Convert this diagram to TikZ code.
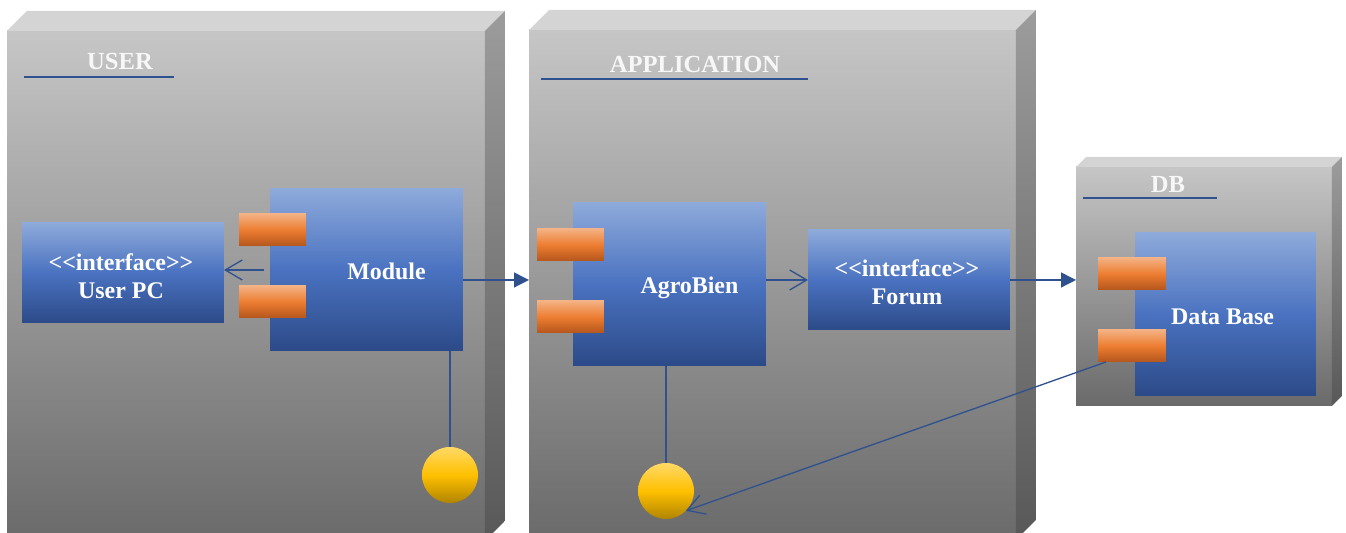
\documentclass[tikz,border=0pt]{standalone}
\usepackage{fontspec}
\setmainfont{Liberation Serif}[Ligatures=TeXOff]
\usetikzlibrary{positioning, calc, arrows.meta}

\definecolor{pkgTop}{HTML}{C6C6C6}
\definecolor{pkgBot}{HTML}{6A6A6A}
\definecolor{pkgLid}{HTML}{D4D4D4}
\definecolor{sideTop}{HTML}{9C9C9C}
\definecolor{sideBot}{HTML}{585858}
\definecolor{compTop}{HTML}{8EAADB}
\definecolor{compMid}{HTML}{4A72C0}
\definecolor{compBot}{HTML}{2C4A88}
\definecolor{portTop}{HTML}{F4B183}
\definecolor{portMid}{HTML}{ED7D31}
\definecolor{portBot}{HTML}{B4561C}
\definecolor{ballTop}{HTML}{FFD966}
\definecolor{ballMid}{HTML}{FFC000}
\definecolor{ballBot}{HTML}{B08400}
\definecolor{wireBlue}{HTML}{2F528F}

\tikzset{
  pkg/.style={anchor=north west, inner sep=0, outer sep=0, top color=pkgTop, bottom color=pkgBot},
  comp/.style={anchor=north west, inner sep=0, outer sep=0, top color=compTop, bottom color=compBot, middle color=compMid},
  port/.style={anchor=north west, inner sep=0, outer sep=0, minimum height=0.64cm, top color=portTop, bottom color=portBot, middle color=portMid},
  ball/.style={circle, inner sep=0, outer sep=0, minimum size=1.12cm, top color=ballTop, bottom color=ballBot, middle color=ballMid},
  lbl/.style={text=white, font=\fontsize{13.6}{16}\selectfont\bfseries, align=center},
  ttl/.style={text=white!94!gray, font=\fontsize{14}{16}\selectfont\bfseries},
  wire/.style={draw=wireBlue, line width=0.75pt},
  openarrow/.style={wire, -{Straight Barb[length=0.34cm, width=0.4cm]}},
  fillarrow/.style={wire, -{Triangle[length=0.3cm, width=0.3cm]}}
}

\begin{document}
\begin{tikzpicture}[x={(0.02cm,0)}, y={(0,-0.02cm)}]
  \clip (0,0) rectangle (1346,533);

  % packages
  \node[pkg, minimum width=9.56cm, minimum height=10.2cm] (userPkg) at (7,31) {};
  \node[pkg, minimum width=9.74cm, minimum height=10.2cm] (appPkg) at (529,30) {};
  \node[pkg, minimum width=5.12cm, minimum height=4.78cm] (dbPkg) at (1076,167) {};
  \foreach \p/\d in {userPkg/20, appPkg/20, dbPkg/10} {
    \fill[pkgLid] (\p.north west) -- ++(\d,-\d) -- ($(\p.north east)+(\d,-\d)$) -- (\p.north east) -- cycle;
    \shade[top color=sideTop, bottom color=sideBot] (\p.north east) -- ++(\d,-\d) -- ($(\p.south east)+(\d,-\d)$) -- (\p.south east) -- cycle;
  }

  % titles
  \node[ttl] (userTitle) at (120,61) {USER};
  \draw[wire] (24,77) -- (174,77);
  \node[ttl] (appTitle) at (695,64) {APPLICATION};
  \draw[wire] (541,79) -- (808,79);
  \node[ttl] (dbTitle) at (1168,184) {DB};
  \draw[wire] (1083,198) -- (1217,198);

  % user side
  \node[comp, minimum width=4.04cm, minimum height=2cm] (userPC) at (22,223) {};
  \node[lbl] (userPCTxt) at ($(userPC.center)+(-2,3)$) {<<interface>>\\User PC};
  \node[comp, minimum width=3.86cm, minimum height=3.24cm] (module) at (270,189) {};
  \node[lbl] (moduleTxt) at ($(module.center)+(20,1)$) {Module};
  \node[port, minimum width=1.34cm] (modPort1) at ($(module.north west)+(-31,25)$) {};
  \node[port, minimum width=1.34cm] (modPort2) at ($(module.north west)+(-31,97)$) {};
  \node[ball] (modBall) at (450,475) {};

  % application side
  \node[comp, minimum width=3.86cm, minimum height=3.26cm] (agro) at (573,203) {};
  \node[lbl] (agroTxt) at ($(agro.center)+(20,3)$) {AgroBien};
  \node[port, minimum width=1.34cm] (agroPort1) at ($(agro.north west)+(-36,26)$) {};
  \node[port, minimum width=1.34cm] (agroPort2) at ($(agro.north west)+(-36,98)$) {};
  \node[comp, minimum width=4.04cm, minimum height=2cm] (forum) at (808,230) {};
  \node[lbl] (forumTxt) at ($(forum.center)+(-2,2)$) {<<interface>>\\Forum};
  \node[ball] (agroBall) at (666,491) {};

  % data base
  \node[comp, minimum width=3.62cm, minimum height=3.26cm] (dataBase) at (1135,233) {};
  \node[lbl] (dataBaseTxt) at ($(dataBase.center)+(-3,2)$) {Data Base};
  \node[port, minimum width=1.36cm] (dbPort1) at ($(dataBase.north west)+(-37,25)$) {};
  \node[port, minimum width=1.36cm] (dbPort2) at ($(dataBase.north west)+(-37,97)$) {};

  % connectors
  \draw[openarrow] ($(module.west)+(-6,0)$) -- (module.west -| userPC.east);
  \coordinate (m2a) at ($(module.east)+(0,10)$);
  \draw[fillarrow] (m2a) -- (m2a -| appPkg.west);
  \draw[wire] (modBall.north) -- (modBall.north |- module.south);
  \draw[wire] (agroBall.north) -- (agroBall.north |- agro.south);
  \draw[openarrow] (forum.west -| agro.east) -- (forum.west);
  \draw[fillarrow] (forum.east) -- (forum.east -| dbPkg.west);
  \draw[openarrow] ($(dbPort2.south west)+(8,0)$) -- (agroBall.-45);
\end{tikzpicture}
\end{document}
